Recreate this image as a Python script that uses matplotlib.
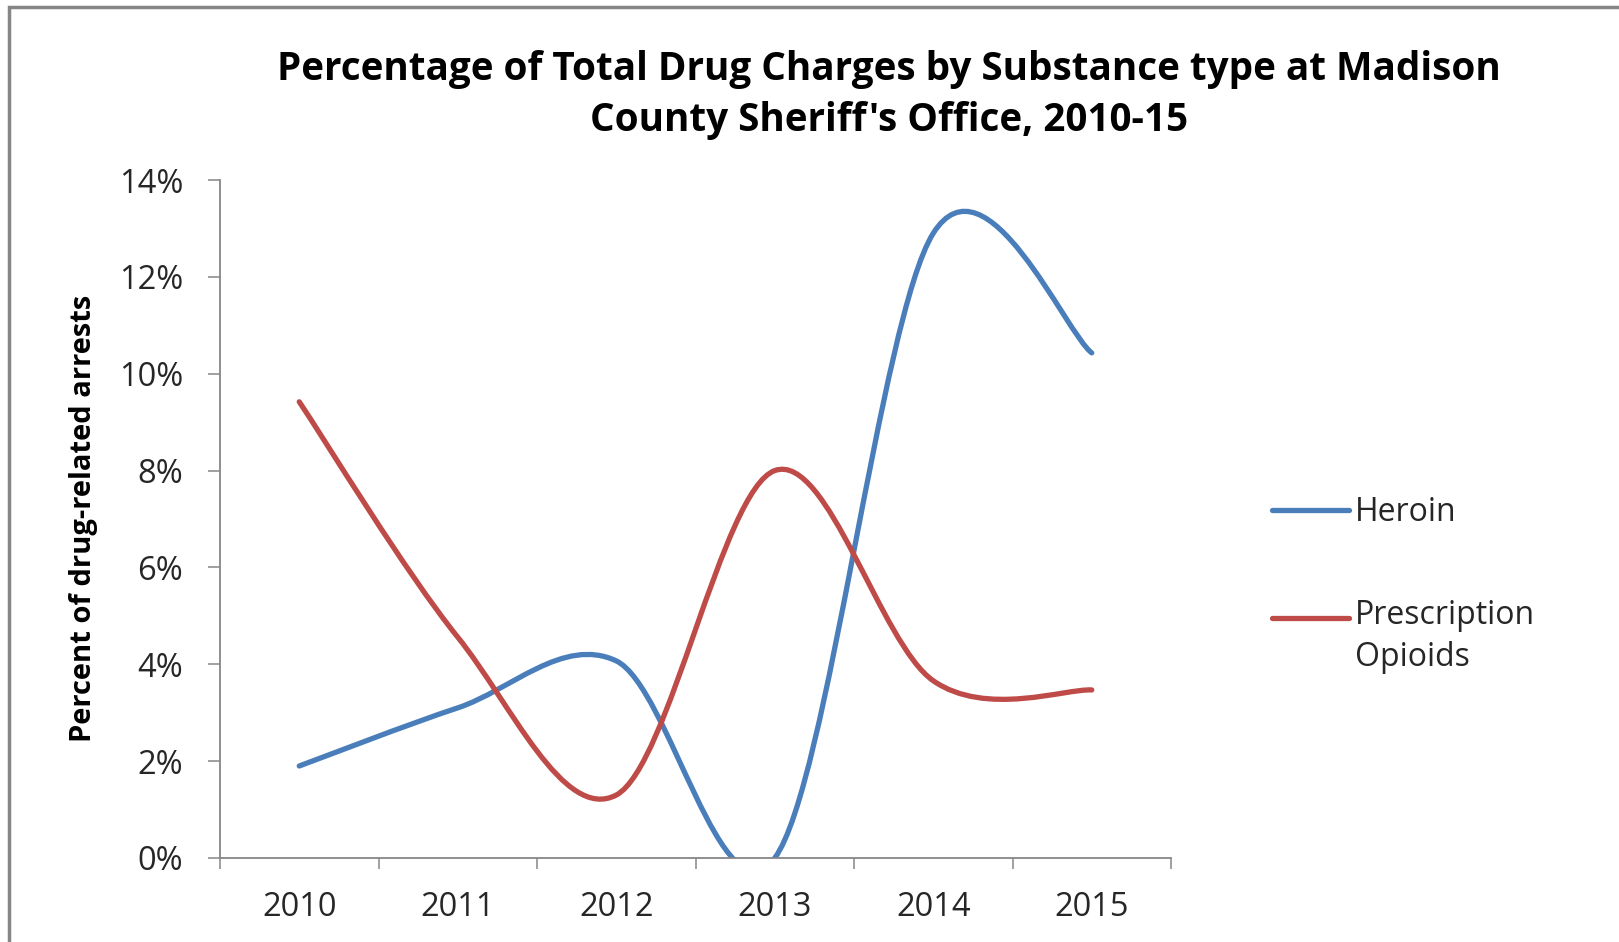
import numpy as np
import matplotlib
matplotlib.use('Agg')
import matplotlib.pyplot as plt
from matplotlib.path import Path
from matplotlib.patches import PathPatch, Rectangle
from matplotlib.lines import Line2D
from matplotlib.legend_handler import HandlerLine2D
from matplotlib.ticker import FixedLocator, FuncFormatter

# values (percent of drug-related arrests)
years = ['2010', '2011', '2012', '2013', '2014', '2015']
heroin = [1.9, 3.1, 4.07, 0.0, 12.9, 10.43]
rx_opioids = [9.42, 4.56, 1.3, 8.0, 3.66, 3.47]
y_ticks = [0, 2, 4, 6, 8, 10, 12, 14]

BLUE = '#4A7EBB'
RED = '#BE4B48'
GREY = '#868686'
W, H = 1619, 942

plt.rcParams['font.family'] = ['Open Sans', 'DejaVu Sans']


def smooth_path(xs, ys):
    """Excel-style smoothed line: cubic bezier through every point."""
    pts = np.column_stack([xs, ys]).astype(float)
    n = len(pts)
    verts = [pts[0]]
    codes = [Path.MOVETO]
    for i in range(n - 1):
        p0 = pts[i - 1] if i > 0 else pts[i]
        p1, p2 = pts[i], pts[i + 1]
        p3 = pts[i + 2] if i + 2 < n else pts[i + 1]
        verts += [p1 + (p2 - p0) / 6, p2 - (p3 - p1) / 6, p2]
        codes += [Path.CURVE4] * 3
    return Path(verts, codes)


class FirstLineHandler(HandlerLine2D):
    # line sits next to the first line of a wrapped label
    def __init__(self, shift=0.0, **kw):
        super().__init__(**kw)
        self.shift = shift

    def create_artists(self, legend, orig_handle, xdescent, ydescent,
                       width, height, fontsize, trans):
        artists = super().create_artists(legend, orig_handle, xdescent, ydescent,
                                         width, height, fontsize, trans)
        for a in artists:
            a.set_ydata(np.asarray(a.get_ydata()) + self.shift * fontsize)
        return artists


fig = plt.figure(figsize=(W / 100, H / 100), dpi=100)
ax = fig.add_axes([220 / W, 1 - 858 / H, (1171 - 220) / W, (858 - 180) / H])

x = np.arange(len(years))
for vals, col in [(heroin, BLUE), (rx_opioids, RED)]:
    ax.add_patch(PathPatch(smooth_path(x, vals), fill=False, edgecolor=col,
                           lw=3.8, capstyle='round', joinstyle='round'))

ax.set_xlim(-0.5, len(years) - 0.5)
ax.set_ylim(0, 14)

for side in ['top', 'right']:
    ax.spines[side].set_visible(False)
for side in ['left', 'bottom']:
    ax.spines[side].set_color(GREY)
    ax.spines[side].set_linewidth(1.3)

ax.yaxis.set_major_locator(FixedLocator(y_ticks))
ax.yaxis.set_major_formatter(FuncFormatter(lambda v, p: f'{v:.0f}%'))
ax.tick_params(axis='y', direction='out', length=8.5, width=1.1, color=GREY,
               pad=18, labelsize=23.5, labelcolor='#262626')

ax.xaxis.set_major_locator(FixedLocator(np.arange(len(years) + 1) - 0.5))
ax.xaxis.set_major_formatter(FuncFormatter(lambda v, p: ''))
ax.xaxis.set_minor_locator(FixedLocator(x))
ax.set_xticklabels(years, minor=True)
ax.tick_params(axis='x', which='major', direction='out', length=8, width=1.1, color=GREY)
ax.tick_params(axis='x', which='minor', length=0, pad=24, labelsize=23.5, labelcolor='#262626')

fig.text(889 / W, 1 - 95 / H,
         "Percentage of Total Drug Charges by Substance type at Madison\nCounty Sheriff's Office, 2010-15",
         ha='center', va='center', fontsize=27.8, fontweight='bold', linespacing=1.42)

fig.text(83 / W, 1 - 518 / H, 'Percent of drug-related arrests', rotation=90,
         ha='center', va='center', fontsize=21, fontweight='bold')

handles = [Line2D([], [], color=BLUE, lw=3.8, solid_capstyle='round'),
           Line2D([], [], color=RED, lw=3.8, solid_capstyle='round')]
leg = ax.legend(handles, ['Heroin', 'Prescription\nOpioids'], loc='upper left',
                bbox_to_anchor=(1272 / W, 1 - 496 / H), bbox_transform=fig.transFigure,
                frameon=False, fontsize=23, borderpad=0, borderaxespad=0,
                handlelength=2.4, handletextpad=0.2, labelspacing=2.2,
                handler_map={handles[1]: FirstLineHandler(shift=0.62)})
for t in leg.get_texts():
    t.set_linespacing(1.35)
    t.set_color('#262626')

# outer chart frame (cropped at right and bottom in the source)
fig.add_artist(Rectangle((9 / W, -0.5), 2.0, 1.5 - 7 / H, transform=fig.transFigure,
                         fill=False, edgecolor=GREY, lw=2.5))

fig.savefig('out.png', dpi=100)
